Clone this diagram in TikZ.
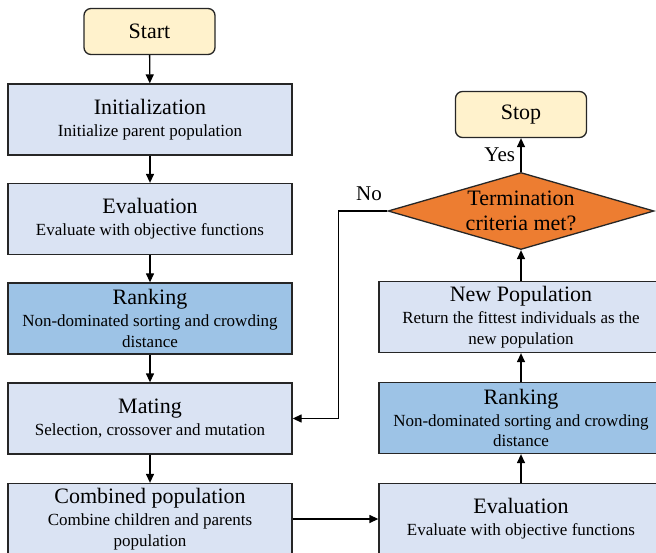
\documentclass[tikz,border=0pt]{standalone}
\usepackage{fontspec}
\setmainfont{Liberation Serif}[Ligatures=TeX]
\usepackage{xcolor}
\usepackage{tikz}
\usetikzlibrary{positioning, shapes, arrows.meta, calc}

\definecolor{stageblue}{HTML}{DAE3F3}
\definecolor{rankblue}{HTML}{9DC3E6}
\definecolor{termyellow}{HTML}{FFF2CC}
\definecolor{decorange}{HTML}{ED7D31}

% title line + description lines of a stage box
\newcommand{\stagelabel}[2]{{\fontsize{22}{24}\selectfont #1}\\[1.5pt]#2}

\tikzset{
	stage/.style={draw=black!85, line width=1.3pt, fill=stageblue, minimum width=284pt, minimum height=71pt, inner sep=2pt, align=center, font=\rmfamily\fontsize{17}{20.5}\selectfont},
	rankstage/.style={stage, fill=rankblue},
	terminal/.style={draw=black!85, line width=1.3pt, fill=termyellow, rounded corners=7pt, minimum width=131pt, minimum height=46pt, font=\rmfamily\fontsize{22}{24}\selectfont},
	decision/.style={diamond, draw=black!85, line width=1.3pt, fill=decorange, aspect=3.45, inner sep=0pt, minimum width=266pt, minimum height=77pt, align=center, font=\rmfamily\fontsize{22}{25}\selectfont},
	flow/.style={line width=1.3pt, -{Triangle[length=9pt,width=8pt]}},
	answer/.style={font=\rmfamily\fontsize{21}{24}\selectfont}
}

\begin{document}
\begin{tikzpicture}[x=1pt, y=-1pt]
	\useasboundingbox (0,0) rectangle (656,553);
	
	% left column
	\node[terminal] (start) at (149.5,31.5) {Start};
	\node[stage] (init) at (150,119.5) {\stagelabel{Initialization}{Initialize parent population}};
	\node[stage] (evalL) at (150,219) {\stagelabel{Evaluation}{Evaluate with objective functions}};
	\node[rankstage] (rankL) at (150,318.5) {\stagelabel{Ranking}{Non-dominated sorting and crowding\\distance}};
	\node[stage] (mating) at (150,418.5) {\stagelabel{Mating}{Selection, crossover and mutation}};
	\node[stage] (comb) at (150,519) {\stagelabel{Combined population}{Combine children and parents\\population}};
	
	% right column
	\node[stage] (evalR) at (521,519) {\stagelabel{Evaluation}{Evaluate with objective functions}};
	\node[rankstage] (rankR) at (521,418) {\stagelabel{Ranking}{Non-dominated sorting and crowding\\distance}};
	\node[stage] (newpop) at (521,317) {\stagelabel{New Population}{Return the fittest individuals as the\\new population}};
	\node[decision] (term) at (521,211) {Termination\\criteria met?};
	\node[terminal] (stop) at (521,114.5) {Stop};
	
	% connectors
	\draw[flow] (start) -- (init);
	\draw[flow] (init) -- (evalL);
	\draw[flow] (evalL) -- (rankL);
	\draw[flow] (rankL) -- (mating);
	\draw[flow] (mating) -- (comb);
	\draw[flow] (comb.east) -- (evalR.west);
	\draw[flow] (evalR) -- (rankR);
	\draw[flow] (rankR) -- (newpop);
	\draw[flow] (newpop) -- (term);
	\draw[flow] (term) -- node[answer, left=2pt] (yes) {Yes} (stop);
	\draw[flow] (term.west) -- ++(-49,0) |- (mating.east);
	\node[answer] (no) at (369,194) {No};
\end{tikzpicture}
\end{document}
